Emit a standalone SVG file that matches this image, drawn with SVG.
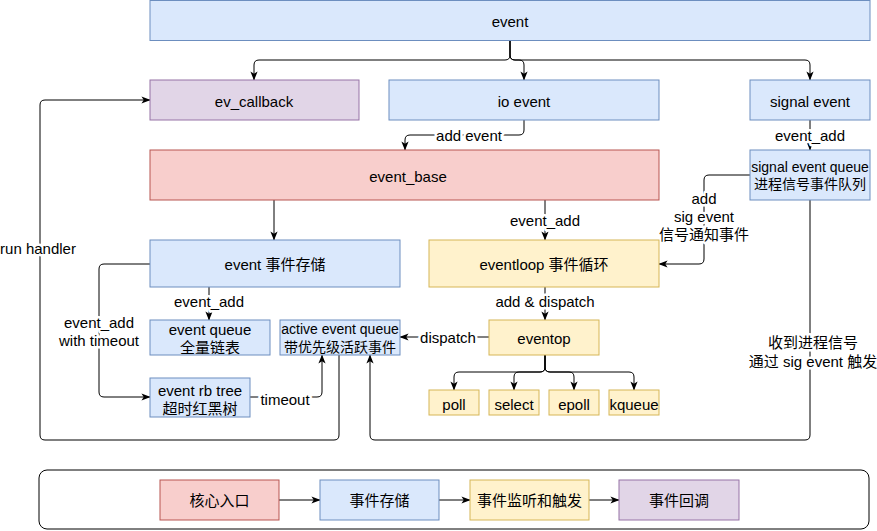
<svg xmlns="http://www.w3.org/2000/svg" width="877" height="531" viewBox="0 0 877 531">
<style>
text{font-family:"Liberation Sans","Noto Sans CJK SC",sans-serif;font-size:15px;fill:#000;text-anchor:middle;dominant-baseline:central}
.s{font-size:14px}
.lbl{stroke:#fff;stroke-width:5px;paint-order:stroke;stroke-linejoin:round}
.blue{fill:#dae8fc;stroke:#6c8ebf}
.red{fill:#f8cecc;stroke:#b85450}
.yel{fill:#fff2cc;stroke:#d6b656}
.pur{fill:#e1d5e7;stroke:#9673a6}
.e{fill:none;stroke:#000;stroke-width:1;marker-end:url(#arr)}
</style>
<defs>
<marker id="arr" viewBox="0 0 10 10" refX="9.5" refY="5" markerWidth="9" markerHeight="9" markerUnits="userSpaceOnUse" orient="auto">
<path d="M0,1 L10,5 L0,9 L2.5,5 z" fill="#000"/>
</marker>
</defs>
<rect x="0" y="0" width="877" height="531" fill="#fff"/>

<g id="connectors">
<path class="e" d="M510,40 V55 Q510,60 505,60 H259 Q254,60 254,65 V80"/>
<path class="e" d="M510,40 V55 Q510,60 515,60 H519 Q524,60 524,65 V80"/>
<path class="e" d="M510,40 V55 Q510,60 515,60 H805 Q810,60 810,65 V80"/>
<path class="e" d="M524,120 V130 Q524,135 519,135 H410 Q405,135 405,140 V150"/>
<path class="e" d="M274,200 V240"/>
<path class="e" d="M545,200 V240"/>
<path class="e" d="M810,120 V150"/>
<path class="e" d="M750,175 H709 Q704,175 704,180 V259 Q704,264 699,264 H659"/>
<path class="e" d="M209,287 V320"/>
<path class="e" d="M150,264 H104 Q99,264 99,269 V392 Q99,397 104,397 H150"/>
<path class="e" d="M250,397 H317 Q322,397 322,392 V355"/>
<path class="e" d="M545,287 V320"/>
<path class="e" d="M489,337 H400"/>
<path class="e" d="M545,355 V367 Q545,372 540,372 H459 Q454,372 454,377 V390"/>
<path class="e" d="M545,355 V367 Q545,372 540,372 H519 Q514,372 514,377 V390"/>
<path class="e" d="M545,355 V367 Q545,372 550,372 H569 Q574,372 574,377 V390"/>
<path class="e" d="M545,355 V367 Q545,372 550,372 H629 Q634,372 634,377 V390"/>
<path class="e" d="M339,355 V435 Q339,440 334,440 H45 Q40,440 40,435 V105 Q40,100 45,100 H150"/>
<path class="e" d="M810,200 V435 Q810,440 805,440 H375 Q370,440 370,435 V355"/>
<path class="e" d="M279,500 H320"/>
<path class="e" d="M439,500 H470"/>
<path class="e" d="M589,500 H619"/>
<text class="lbl" x="469" y="135">add event</text>
<text class="lbl" x="545" y="220">event_add</text>
<text class="lbl" x="810" y="135">event_add</text>
<text class="lbl" x="704" y="198">add</text>
<text class="lbl" x="704" y="216">sig event</text>
<text class="lbl" x="704" y="234">信号通知事件</text>
<text class="lbl" x="209" y="301">event_add</text>
<text class="lbl" x="99" y="322">event_add</text>
<text class="lbl" x="99" y="340">with timeout</text>
<text class="lbl" x="285" y="399">timeout</text>
<text class="lbl" x="545" y="301">add &amp; dispatch</text>
<text class="lbl" x="448" y="337">dispatch</text>
<text class="lbl" x="38" y="248">run handler</text>
<text class="lbl" x="813" y="342">收到进程信号</text>
<text class="lbl" x="813" y="361">通过 sig event 触发</text>
</g>

<g id="event"><rect class="blue" x="150" y="0.5" width="720" height="40"/><text x="510" y="21">event</text></g>
<g id="ev_callback"><rect class="pur" x="150" y="80" width="209" height="40"/><text x="254" y="101">ev_callback</text></g>
<g id="io_event"><rect class="blue" x="389" y="80" width="270" height="40"/><text x="524" y="101">io event</text></g>
<g id="signal_event"><rect class="blue" x="750" y="80" width="120" height="40"/><text x="810" y="101">signal event</text></g>
<g id="event_base"><rect class="red" x="150" y="150" width="509" height="50"/><text x="408" y="176">event_base</text></g>
<g id="signal_queue"><rect class="blue" x="750" y="150" width="120" height="50"/><text class="s" x="810" y="167">signal event queue</text><text class="s" x="810" y="184">进程信号事件队列</text></g>
<g id="event_storage"><rect class="blue" x="150" y="240" width="250" height="47"/><text x="275" y="264">event 事件存储</text></g>
<g id="eventloop"><rect class="yel" x="429" y="240" width="230" height="47"/><text x="544" y="264">eventloop 事件循环</text></g>
<g id="event_queue"><rect class="blue" x="150" y="320" width="120" height="35"/><text x="210" y="329">event queue</text><text x="210" y="347">全量链表</text></g>
<g id="active_queue"><rect class="blue" x="280" y="320" width="120" height="35"/><text class="s" x="340" y="329">active event queue</text><text class="s" x="340" y="347">带优先级活跃事件</text></g>
<g id="eventop"><rect class="yel" x="489" y="320" width="110" height="35"/><text x="544" y="338">eventop</text></g>
<g id="rb_tree"><rect class="blue" x="150" y="378" width="100" height="39"/><text x="200" y="390">event rb tree</text><text x="200" y="408">超时红黑树</text></g>
<g id="poll"><rect class="yel" x="429" y="390" width="50" height="25"/><text x="454" y="404">poll</text></g>
<g id="select"><rect class="yel" x="489" y="390" width="50" height="25"/><text x="514" y="404">select</text></g>
<g id="epoll"><rect class="yel" x="549" y="390" width="50" height="25"/><text x="574" y="404">epoll</text></g>
<g id="kqueue"><rect class="yel" x="609" y="390" width="50" height="25"/><text x="634" y="404">kqueue</text></g>

<g id="legend">
<rect x="39" y="470" width="830" height="59" rx="8" fill="none" stroke="#000"/>
</g>
<g id="legend_core"><rect class="red" x="160" y="480" width="119" height="40"/><text x="219.5" y="500">核心入口</text></g>
<g id="legend_storage"><rect class="blue" x="320" y="480" width="119" height="40"/><text x="379.5" y="500">事件存储</text></g>
<g id="legend_listen"><rect class="yel" x="470" y="480" width="119" height="40"/><text x="529.5" y="500">事件监听和触发</text></g>
<g id="legend_callback"><rect class="pur" x="619" y="480" width="120" height="40"/><text x="679" y="500">事件回调</text></g>
</svg>
